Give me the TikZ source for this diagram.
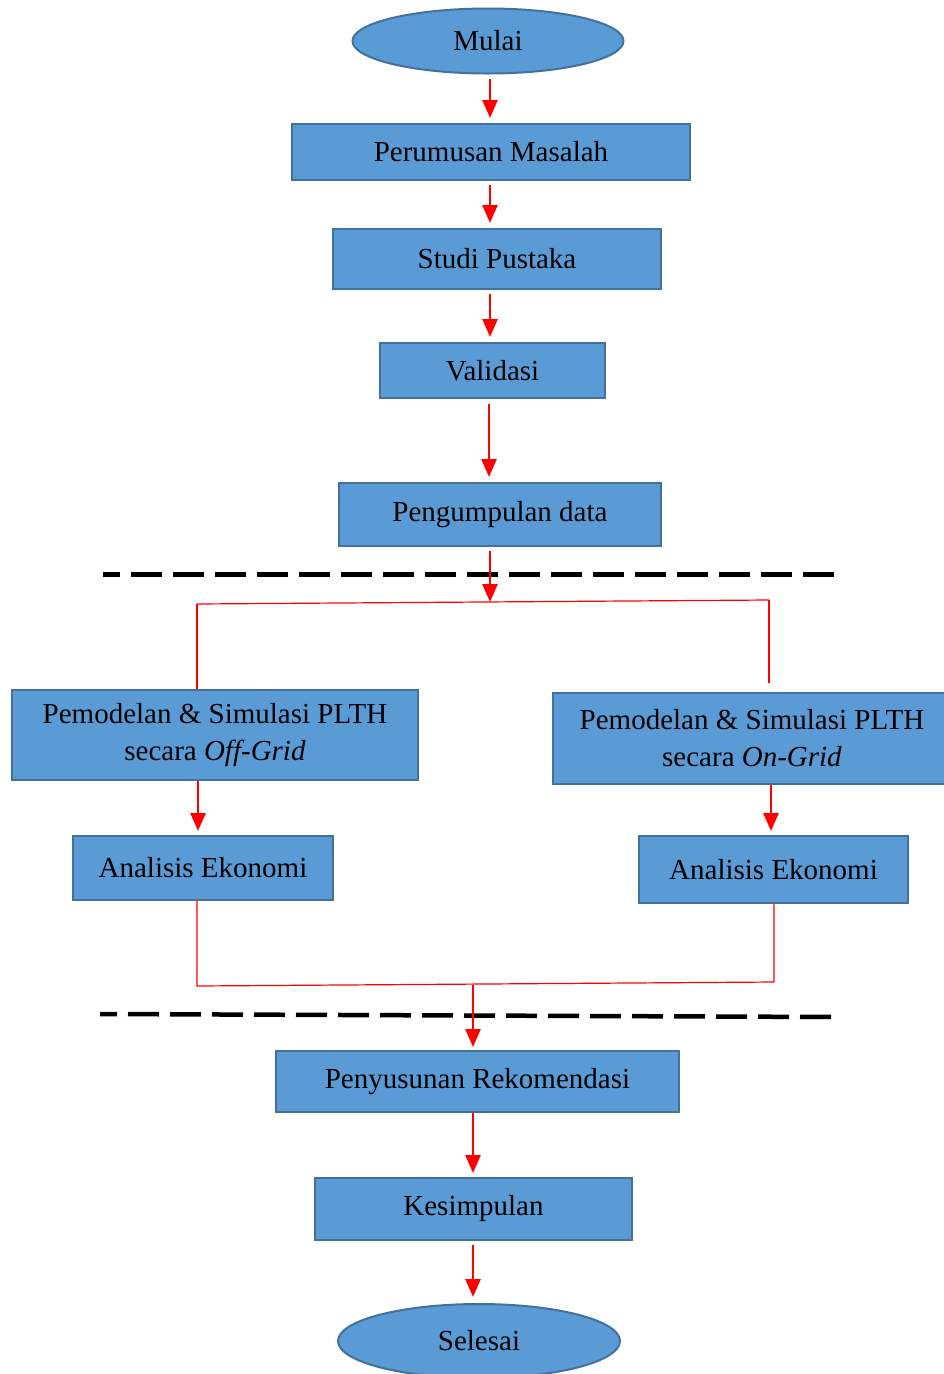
\documentclass[tikz,border=0pt]{standalone}
\usepackage{fontspec}
\setmainfont{Liberation Serif}
\usetikzlibrary{shapes.geometric,arrows.meta}
\definecolor{boxfill}{HTML}{5B9BD5}
\definecolor{boxborder}{HTML}{41719C}
\begin{document}
\begin{tikzpicture}[x=1pt,y=-1pt,
  box/.style={draw=boxborder,line width=2pt,fill=boxfill,inner sep=0pt,
    font=\fontsize{29}{37}\selectfont,align=center,text=black},
  oval/.style={box,ellipse},
  arr/.style={draw=red,line width=2.6pt,-{Triangle[length=18pt,width=15pt]}},
  thinred/.style={draw=red,line width=1.2pt},
  sepline/.style={draw=black,line width=4.5pt,dash pattern=on 31pt off 11pt,dash phase=14pt}]
\clip (0,0) rectangle (944,1374);
\useasboundingbox (0,0) rectangle (944,1374);

% separator lines
\coordinate (d1a) at (103,574.5);
\coordinate (d1b) at (838,574.5);
\coordinate (d2a) at (100,1014);
\coordinate (d2b) at (836,1017);
\draw[sepline] (d1a) -- (d1b);
\draw[sepline] (d2a) -- (d2b);

% nodes
\node[oval,minimum width=271pt,minimum height=65pt] (mulai) at (488,41) {\raisebox{-3pt}{Mulai}};
\node[box,minimum width=398pt,minimum height=56pt] (perum) at (491,152) {Perumusan Masalah};
\node[box,minimum width=328pt,minimum height=60pt] (studi) at (497,259) {Studi Pustaka};
\node[box,minimum width=225pt,minimum height=55pt] (valid) at (492.5,370.5) {Validasi};
\node[box,minimum width=322pt,minimum height=63pt] (peng) at (500,514.5) {Pengumpulan data};
\node[box,minimum width=406pt,minimum height=90pt] (pemL) at (215,735) {Pemodelan \& Simulasi PLTH\\secara \textit{Off-Grid}};
\node[box,minimum width=398pt,minimum height=91pt] (pemR) at (752,738.5) {Pemodelan \& Simulasi PLTH\\secara \textit{On-Grid}};
\node[box,minimum width=260pt,minimum height=64pt] (anaL) at (203,868) {Analisis Ekonomi};
\node[box,minimum width=269pt,minimum height=67pt] (anaR) at (773.5,869.5) {Analisis Ekonomi};
\node[box,minimum width=403pt,minimum height=61pt] (peny) at (477.5,1081.5) {Penyusunan Rekomendasi};
\node[box,minimum width=317pt,minimum height=62pt] (kes) at (473.5,1209) {Kesimpulan};
\node[oval,minimum width=282pt,minimum height=74pt] (sel) at (479,1341) {\raisebox{-2pt}{Selesai}};

% split / merge points
\coordinate (sL) at (197,604);
\coordinate (sM) at (490,602);
\coordinate (sR) at (769,600);
\coordinate (sRe) at (769,683);
\coordinate (mL) at (197,986);
\coordinate (mM) at (473,985);
\coordinate (mR) at (774,982);

% connectors
\draw[arr,shorten <=4pt,shorten >=5pt] ([xshift=2pt]mulai.south) -- ([xshift=-1pt]perum.north);
\draw[arr,shorten <=4pt,shorten >=5pt] ([xshift=-1pt]perum.south) -- ([xshift=-7pt]studi.north);
\draw[arr,shorten <=4pt,shorten >=5pt] ([xshift=-7pt]studi.south) -- ([xshift=-2.5pt]valid.north);
\draw[arr,shorten <=5pt,shorten >=5pt] ([xshift=-3.5pt]valid.south) -- ([xshift=-11pt]peng.north);
\draw[arr,shorten <=4pt] ([xshift=-10pt]peng.south) -- (sM);
\draw[thinred] (sL) -- (sR);
\draw[thinred] (sL) -- (pemL.north -| sL);
\draw[thinred] (sR) -- (sRe);
\draw[arr,shorten >=4pt] ([xshift=-17pt]pemL.south) -- ([xshift=-5pt]anaL.north);
\draw[arr,shorten >=4pt] ([xshift=19pt]pemR.south) -- ([xshift=-2.5pt]anaR.north);
\draw[thinred] (anaL.south -| mL) -- (mL) -- (mR) -- (anaR.south -| mR);
\draw[arr,shorten >=3pt] (mM) -- ([xshift=-4.5pt]peny.north);
\draw[arr,shorten >=4pt] ([xshift=-4.5pt]peny.south) -- ([xshift=-0.5pt]kes.north);
\draw[arr,shorten <=4pt,shorten >=6pt] ([xshift=-0.5pt]kes.south) -- ([xshift=-6pt]sel.north);
\end{tikzpicture}
\end{document}
